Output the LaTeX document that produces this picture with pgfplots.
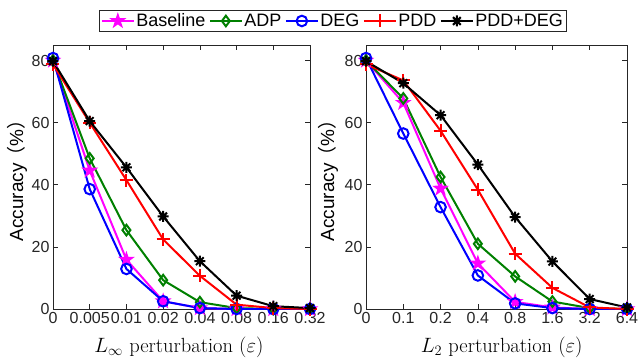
\documentclass[border=0pt]{standalone}
\usepackage{pgfplots}
\pgfplotsset{compat=1.18}
\usepackage{fontspec}
\newfontfamily\arial{Liberation Sans}
\newfontfamily\cjk{Noto Sans CJK SC}
\definecolor{axgray}{gray}{0.15}
\definecolor{mgreen}{rgb}{0,0.5,0}
\definecolor{mmag}{rgb}{1,0,1}
\definecolor{mblue}{rgb}{0,0,1}
\definecolor{mred}{rgb}{1,0,0}

\pgfdeclareplotmark{pentagram}{%
  \pgfpathmoveto{\pgfpointpolar{90}{1.35\pgfplotmarksize}}%
  \pgfpathlineto{\pgfpointpolar{126}{0.52\pgfplotmarksize}}%
  \pgfpathlineto{\pgfpointpolar{162}{1.35\pgfplotmarksize}}%
  \pgfpathlineto{\pgfpointpolar{198}{0.52\pgfplotmarksize}}%
  \pgfpathlineto{\pgfpointpolar{234}{1.35\pgfplotmarksize}}%
  \pgfpathlineto{\pgfpointpolar{270}{0.52\pgfplotmarksize}}%
  \pgfpathlineto{\pgfpointpolar{306}{1.35\pgfplotmarksize}}%
  \pgfpathlineto{\pgfpointpolar{342}{0.52\pgfplotmarksize}}%
  \pgfpathlineto{\pgfpointpolar{18}{1.35\pgfplotmarksize}}%
  \pgfpathlineto{\pgfpointpolar{54}{0.52\pgfplotmarksize}}%
  \pgfpathclose
  \pgfusepathqfillstroke}
\pgfdeclareplotmark{ast8}{%
  \pgfpathmoveto{\pgfpoint{-\pgfplotmarksize}{0pt}}\pgfpathlineto{\pgfpoint{\pgfplotmarksize}{0pt}}%
  \pgfpathmoveto{\pgfpoint{0pt}{-\pgfplotmarksize}}\pgfpathlineto{\pgfpoint{0pt}{\pgfplotmarksize}}%
  \pgfpathmoveto{\pgfpoint{-0.707\pgfplotmarksize}{-0.707\pgfplotmarksize}}\pgfpathlineto{\pgfpoint{0.707\pgfplotmarksize}{0.707\pgfplotmarksize}}%
  \pgfpathmoveto{\pgfpoint{-0.707\pgfplotmarksize}{0.707\pgfplotmarksize}}\pgfpathlineto{\pgfpoint{0.707\pgfplotmarksize}{-0.707\pgfplotmarksize}}%
  \pgfusepathqstroke}

\newcommand{\ylab}{{\arial\fontsize{19}{21}\selectfont Accuracy\kern-0.12em{\cjk （}\%{\cjk ）}\kern-0.12em}}

\pgfplotsset{
  myax/.style={
    scale only axis, width=257pt, height=264pt,
    xmin=0, xmax=7, ymin=0, ymax=85,
    xtick={0,1,2,3,4,5,6,7}, ytick={0,20,40,60,80},
    axis line style={axgray, line width=0.6pt},
    tick style={axgray, line width=0.6pt},
    major tick length=5pt,
    tick align=inside,
    /pgf/number format/assume math mode=true,
    tick label style={font=\arial\fontsize{16}{18}\selectfont, text=axgray},
    xlabel style={font=\fontsize{20.5}{23}\selectfont},
    every axis plot/.append style={line width=2pt, mark options={solid}},
    legend image code/.code={\draw[mark repeat=2,mark phase=2] plot coordinates {(0pt,0pt) (16pt,0pt) (32pt,0pt)};},
  },
  sBase/.style={color=mmag, mark=pentagram, mark size=4.2pt, mark options={fill=mmag}},
  sADP/.style={color=mgreen, mark=diamond, mark size=5.3pt},
  sDEG/.style={color=mblue, mark=o, mark size=5.3pt},
  sPDD/.style={color=mred, mark=+, mark size=6.5pt},
  sPD/.style={color=black, mark=ast8, mark size=5.5pt},
}

\begin{document}
\begin{tikzpicture}
\path[use as bounding box] (-53pt,-51pt) rectangle (586pt,309pt);
\begin{axis}[myax, at={(0pt,0pt)}, anchor=south west,
  xticklabels={0,0.005,0.01,0.02,0.04,0.08,0.16,0.32},
  xlabel={$L_\infty$ perturbation $(\varepsilon)$},
  xlabel style={at={(axis description cs:0.49,-0.163)}, anchor=base},
  ylabel={\ylab},
  ylabel style={at={(axis description cs:-0.14,0.5)}, anchor=center, rotate=0},
  legend columns=5,
  legend style={at={(axis description cs:1.088,1.091)}, anchor=center,
    draw=axgray, line width=0.6pt, font=\arial\fontsize{18}{20}\selectfont,
    inner sep=1.5pt, /tikz/every odd column/.append style={column sep=0pt},
    /tikz/every even column/.append style={column sep=2pt},
    nodes={inner sep=1.5pt}},
]
\addplot[sBase] coordinates {(0,80) (1,44.6) (2,15.9) (3,2.5) (4,0.3) (5,0) (6,0) (7,0)};
\addplot[sADP] coordinates {(0,80) (1,48.5) (2,25.4) (3,9.3) (4,2.2) (5,0.3) (6,0) (7,0)};
\addplot[sDEG] coordinates {(0,80.8) (1,38.6) (2,12.9) (3,2.5) (4,0.3) (5,0) (6,0) (7,0)};
\addplot[sPDD] coordinates {(0,78.8) (1,60) (2,41.5) (3,22.4) (4,10.7) (5,1.4) (6,0.3) (7,0)};
\addplot[sPD] coordinates {(0,79.8) (1,60.5) (2,45.6) (3,29.8) (4,15.4) (5,4.3) (6,0.9) (7,0.3)};
\legend{Baseline,ADP,DEG,PDD,PDD+DEG}
\end{axis}
\begin{axis}[myax, at={(313pt,0pt)}, anchor=south west, width=261pt,
  xticklabels={0,0.1,0.2,0.4,0.8,1.6,3.2,6.4},
  xlabel={$L_2$ perturbation $(\varepsilon)$},
  xlabel style={at={(axis description cs:0.52,-0.163)}, anchor=base},
  ylabel={\ylab},
  ylabel style={at={(axis description cs:-0.146,0.5)}, anchor=center, rotate=0},
]
\addplot[sBase] coordinates {(0,80) (1,66.4) (2,38.8) (3,14.7) (4,2.3) (5,0.5) (6,0) (7,0)};
\addplot[sADP] coordinates {(0,80) (1,67.8) (2,42.5) (3,21) (4,10.5) (5,2.4) (6,0.3) (7,0)};
\addplot[sDEG] coordinates {(0,80.8) (1,56.5) (2,32.8) (3,10.8) (4,1.8) (5,0.3) (6,0) (7,0)};
\addplot[sPDD] coordinates {(0,78.8) (1,73.6) (2,57.4) (3,38.4) (4,17.8) (5,6.8) (6,0.5) (7,0)};
\addplot[sPD] coordinates {(0,79.8) (1,72.7) (2,62.4) (3,46.5) (4,29.6) (5,15.3) (6,3.2) (7,0.5)};
\end{axis}
\end{tikzpicture}
\end{document}
